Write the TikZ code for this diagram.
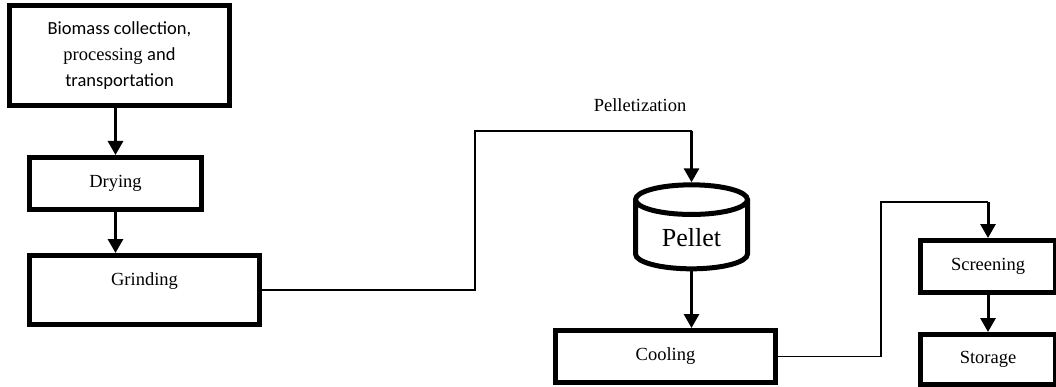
\documentclass[tikz,border=0pt]{standalone}
\usepackage{fontspec}
\setmainfont{Liberation Serif}
\newfontfamily\calibri{Carlito}
\usetikzlibrary{arrows.meta,shapes.geometric}
\begin{document}
\begin{tikzpicture}[x=1pt,y=1pt,
		stage/.style={draw,line width=5pt,inner sep=0pt,font=\fontsize{18.5}{26}\selectfont},
		flow/.style={line width=3pt,-{Triangle[width=15pt,length=14pt]}},
		link/.style={line width=1.5pt}]
		\useasboundingbox (0,0) rectangle (1056,386);
		% left column
		\node[stage,minimum width=220pt,minimum height=100pt,align=center] (bio) at (119.5,330.5)
			{{\calibri Biomass collection,}\\processing {\calibri and}\\{\calibri transportation}};
		\node[stage,minimum width=172pt,minimum height=52pt] (dry) at (115.5,202.5) {Drying};
		\node[stage,minimum width=230pt,text height=30pt,text depth=39pt] (grind) at (144.5,96) {Grinding};
		\draw[flow] (bio.south -| dry.north) -- (dry.north);
		\draw[flow] (dry.south) -- (dry.south |- grind.north);
		% pelletization
		\node[draw,cylinder,shape border rotate=90,aspect=0.45,line width=5pt,
			minimum width=112pt,minimum height=84pt,font=\fontsize{26}{30}\selectfont] (pellet) at (691.5,148) {Pellet};
		\node[font=\fontsize{18.5}{22}\selectfont] (pelz) at (640,281) {Pelletization};
		\coordinate (pin) at (pellet.north |- 0,255);
		\draw[link] (grind.east) -- (475,96) |- (pin);
		\draw[flow] (pin) -- (pellet.north);
		\node[stage,minimum width=220pt,minimum height=52pt] (cool) at (665.5,29.5) {Cooling};
		\draw[flow] (pellet.south) -- (pellet.south |- cool.north);
		% right column
		\node[stage,minimum width=135pt,minimum height=52pt] (scr) at (988,119.5) {Screening};
		\node[stage,minimum width=135pt,minimum height=50pt] (store) at (988,26.5) {Storage};
		\coordinate (sin) at (scr.north |- 0,184);
		\draw[link] (cool.east) -- (881,29.5) |- (sin);
		\draw[flow] (sin) -- (scr.north);
		\draw[flow] (scr.south) -- (store.north);
	\end{tikzpicture}
\end{document}
